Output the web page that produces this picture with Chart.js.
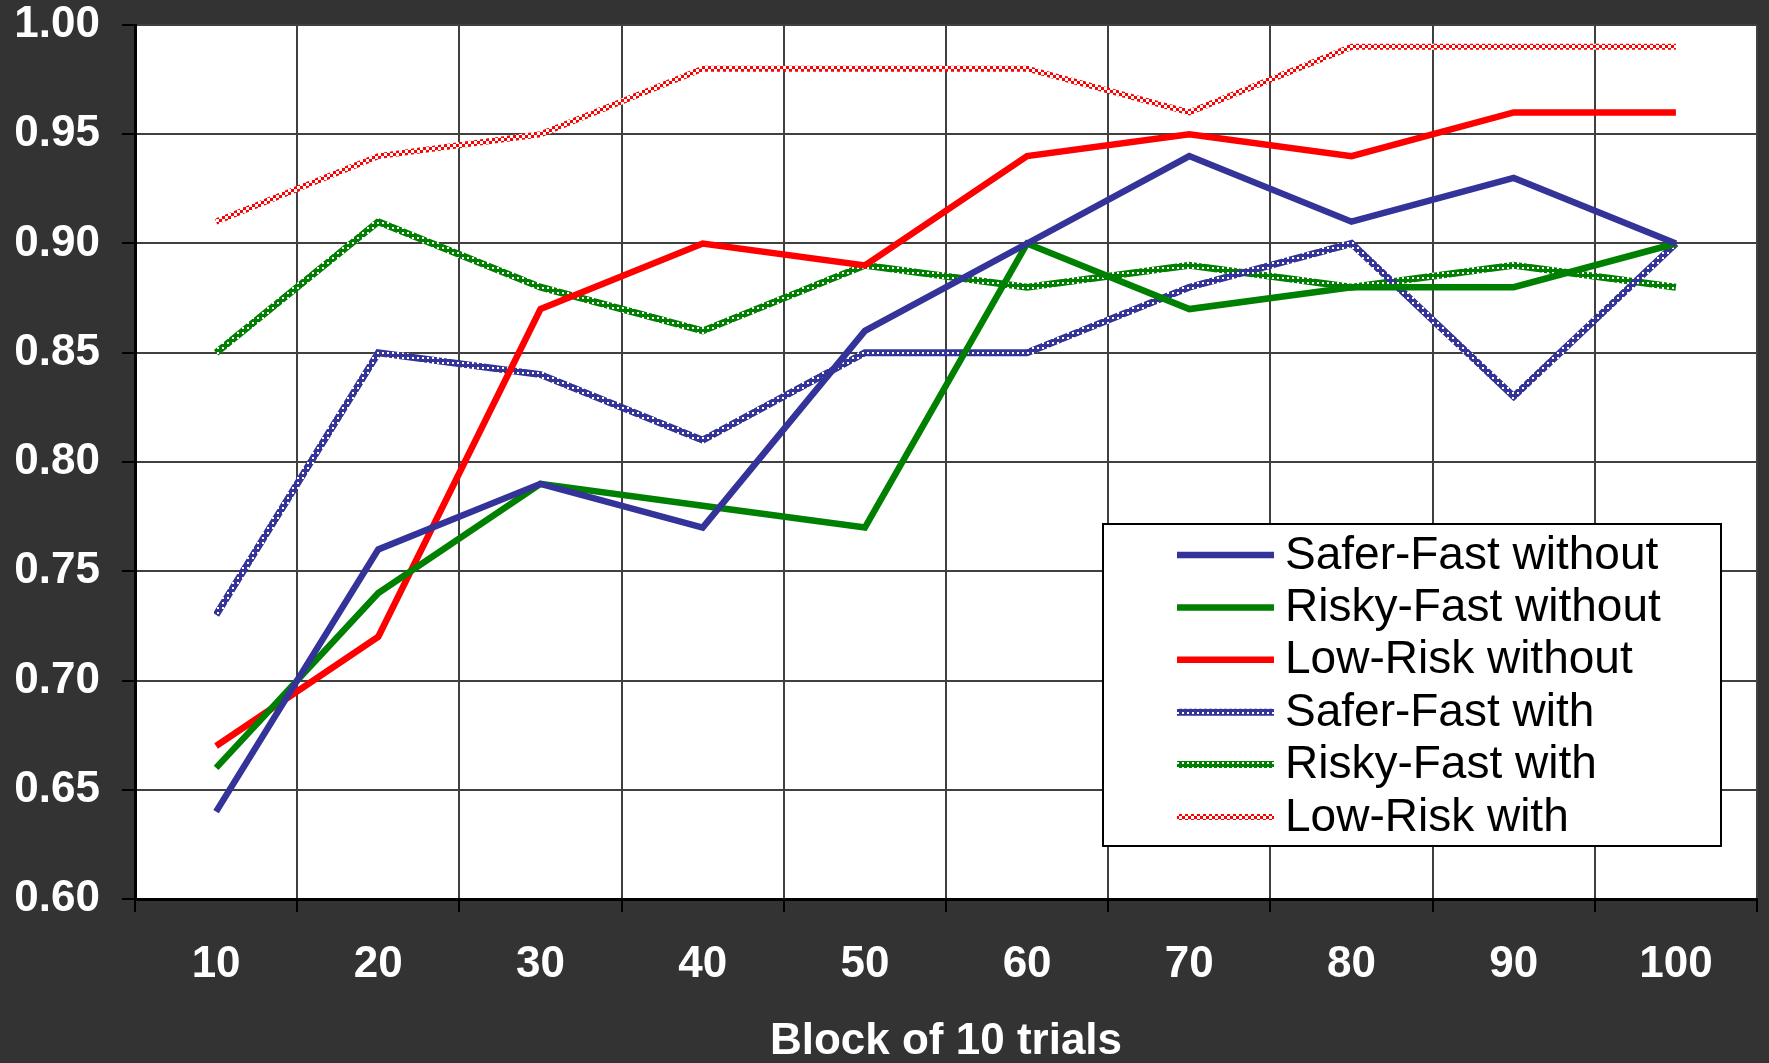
<!DOCTYPE html>
<html><head><meta charset="utf-8">
<script src="https://cdn.jsdelivr.net/npm/chart.js@4.4.1/dist/chart.umd.min.js"></script>
<style>html,body{margin:0;padding:0;background:#333333;overflow:hidden}#wrap{width:1769px;height:1063px;position:relative}</style>
</head><body><div id="wrap"><canvas id="c" width="1769" height="1063"></canvas></div>
<script>
// ---- data ----
const categories = ['10','20','30','40','50','60','70','80','90','100'];
const yTickValues = [0.60,0.65,0.70,0.75,0.80,0.85,0.90,0.95,1.00];
const xTitle = 'Block of 10 trials';
const seriesLabels = ['Safer-Fast without','Risky-Fast without','Low-Risk without','Safer-Fast with','Risky-Fast with','Low-Risk with'];
const saferFastWithout = [0.64,0.76,0.79,0.77,0.86,0.90,0.94,0.91,0.93,0.90];
const riskyFastWithout = [0.66,0.74,0.79,0.78,0.77,0.90,0.87,0.88,0.88,0.90];
const lowRiskWithout   = [0.67,0.72,0.87,0.90,0.89,0.94,0.95,0.94,0.96,0.96];
const saferFastWith    = [0.73,0.85,0.84,0.81,0.85,0.85,0.88,0.90,0.83,0.90];
const riskyFastWith    = [0.85,0.91,0.88,0.86,0.89,0.88,0.89,0.88,0.89,0.88];
const lowRiskWith      = [0.91,0.94,0.95,0.98,0.98,0.98,0.96,0.99,0.99,0.99];

const BLUE = '#333399', GREEN = '#008000', RED = '#ff0000';
const FONT = '"Liberation Sans", Arial, sans-serif';

function pattern(color, kind){
  const c = document.createElement('canvas');
  const x = c.getContext('2d');
  if (kind === 'checker') {
    c.width = 6; c.height = 6;
    x.fillStyle = '#ffffff'; x.fillRect(0,0,6,6);
    x.fillStyle = color; x.fillRect(0,0,3,3); x.fillRect(3,3,3,3);
  } else {
    c.width = 5; c.height = 5;
    x.fillStyle = color; x.fillRect(0,0,5,5);
    x.fillStyle = '#ffffff'; x.fillRect(2,2,2,2);
  }
  return x.createPattern(c, 'repeat');
}

const ctx = document.getElementById('c').getContext('2d');
const styles = [
  {color: BLUE, w: 6.5},
  {color: GREEN, w: 6.5},
  {color: RED, w: 6.5},
  {color: pattern(BLUE,'holes'), w: 7},
  {color: pattern(GREEN,'holes'), w: 7},
  {color: pattern(RED,'checker'), w: 6},
];
const values = [saferFastWithout, riskyFastWithout, lowRiskWithout, saferFastWith, riskyFastWith, lowRiskWith];

const bgPlugin = {
  id: 'bg',
  beforeDraw(chart){
    const {ctx, chartArea:a} = chart;
    ctx.save();
    ctx.fillStyle = '#333333'; ctx.fillRect(0,0,chart.width,chart.height);
    ctx.fillStyle = '#ffffff'; ctx.fillRect(a.left, a.top, a.right-a.left, a.bottom-a.top);
    ctx.restore();
  }
};
const legendPlugin = {
  id: 'customLegend',
  afterDraw(chart){
    const c = chart.ctx;
    c.save();
    const L = 1103, T = 524, R = 1721, B = 846;
    c.fillStyle = '#ffffff'; c.fillRect(L, T, R-L, B-T);
    c.strokeStyle = '#000000'; c.lineWidth = 2; c.strokeRect(L, T, R-L, B-T);
    const y0 = 555, dy = 52.4;
    chart.data.datasets.forEach((ds, i) => {
      const y = y0 + i*dy;
      c.beginPath(); c.moveTo(1177, y); c.lineTo(1274, y);
      c.strokeStyle = ds.borderColor; c.lineWidth = ds.borderWidth; c.lineCap = 'butt'; c.stroke();
      c.fillStyle = '#000000'; c.font = '46px ' + FONT; c.textBaseline = 'middle'; c.textAlign = 'left';
      c.fillText(ds.label, 1285, y + 1);
    });
    c.restore();
  }
};

new Chart(ctx, {
  type: 'line',
  data: {
    labels: categories,
    datasets: seriesLabels.map((lab, i) => ({
      label: lab,
      data: values[i],
      borderColor: styles[i].color,
      backgroundColor: styles[i].color,
      borderWidth: styles[i].w,
      pointRadius: 0,
      tension: 0,
      fill: false,
      borderJoinStyle: 'miter',
      borderCapStyle: 'butt'
    }))
  },
  options: {
    responsive: false,
    animation: false,
    devicePixelRatio: 1,
    layout: {padding: {left: 0, right: 12, top: 25, bottom: 0}},
    plugins: {legend: {display: false}, tooltip: {enabled: false}},
    scales: {
      x: {
        type: 'category',
        offset: true,
        grid: {offset: true, color: '#404040', lineWidth: 2, tickColor: '#000000', tickLength: 13, drawTicks: true},
        border: {color: '#000000', width: 3},
        ticks: {color: '#ffffff', font: {family: FONT, size: 44, weight: 'bold'}, padding: 26, maxRotation: 0, autoSkip: false},
        title: {display: true, text: xTitle, color: '#ffffff', font: {family: FONT, size: 44, weight: 'bold'}, padding: {top: 0, bottom: -5}},
        afterFit(scale){ scale.height = 164; scale.paddingLeft = 0; scale.paddingRight = 0; }
      },
      y: {
        min: 0.6, max: 1.0,
        grid: {color: '#404040', lineWidth: 2, tickColor: '#000000', tickLength: 13},
        border: {color: '#000000', width: 3},
        ticks: {color: '#ffffff', font: {family: FONT, size: 44, weight: 'bold'}, padding: 22,
          callback: (v) => Number(v).toFixed(2)},
        afterBuildTicks(scale){ scale.ticks = yTickValues.map(v => ({value: v})); },
        afterFit(scale){ scale.width = 135; scale.paddingTop = 0; scale.paddingBottom = 0; }
      }
    }
  },
  plugins: [bgPlugin, legendPlugin]
});
</script></body></html>
